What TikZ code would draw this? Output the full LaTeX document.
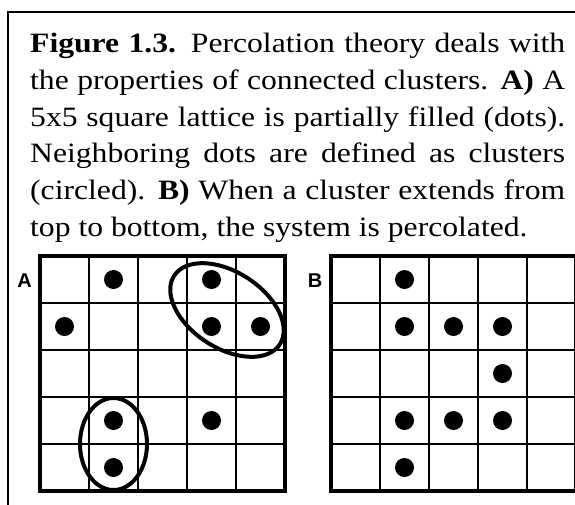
\documentclass[tikz,border=0pt]{standalone}
\usepackage{fontspec}
\setmainfont{Liberation Serif}[FakeStretch=1.13]
\newfontfamily\labelfont{Liberation Sans}
\tikzset{
  frameline/.style={line width=1.8pt},
  innerline/.style={line width=2.5pt},
  outerline/.style={line width=4.6pt},
  ring/.style={line width=4pt},
  dotfill/.style={fill=black},
  panellabel/.style={font=\labelfont\bfseries\fontsize{20}{24}\selectfont, inner sep=0pt},
}
\begin{document}
\begin{tikzpicture}[x=1pt,y=-1pt]
\useasboundingbox (0,0) rectangle (575,504);
\clip (0,0) rectangle (575,504);
\fill[white] (0,0) rectangle (575,504);
% frame
\draw[frameline] (8,12) rectangle (620,540);
% caption
\node[anchor=base west, text width=535pt, align=justify, inner sep=0pt,
      font=\fontsize{28}{36.8}\selectfont] (caption) at (30,52.5)
 {\textbf{Figure 1.3.} Percolation theory deals with\linebreak
  the properties of connected clusters. \textbf{A)} A\linebreak
  5x5 square lattice is partially filled (dots).\linebreak
  Neighboring dots are defined as clusters\linebreak
  (circled). \textbf{B)} When a cluster extends from\linebreak
  top to bottom, the system is percolated.};
% labels
\node[panellabel] (labA) at (24.5,280.5) {A};
\node[panellabel] (labB) at (315,280.5) {B};
% grid A
\begin{scope}[shift={(40,256)}]
  \foreach \i in {1,...,4} {
    \draw[innerline] (49*\i,0) -- (49*\i,235);
    \draw[innerline] (0,47*\i) -- (245,47*\i);
  }
  \foreach \c/\r in {1/0,3/0,0/1,3/1,4/1,1/3,3/3,1/4}
    \fill[dotfill] (49*\c+24.5,47*\r+23.5) circle (9.5pt);
  \draw[outerline] (0,0) rectangle (245,235);
  \draw[ring] (73.5,188) ellipse [x radius=33.5pt, y radius=46pt];
  \draw[ring, rotate around={-33:(187,54)}] (187,54) ellipse [x radius=63pt, y radius=38pt];
\end{scope}
% grid B
\begin{scope}[shift={(331,256)}]
  \foreach \i in {1,...,4} {
    \draw[innerline] (49*\i,0) -- (49*\i,235);
    \draw[innerline] (0,47*\i) -- (245,47*\i);
  }
  \foreach \c/\r in {1/0,1/1,2/1,3/1,3/2,1/3,2/3,3/3,1/4}
    \fill[dotfill] (49*\c+24.5,47*\r+23.5) circle (9.5pt);
  \draw[outerline] (0,0) rectangle (245,235);
\end{scope}
\end{tikzpicture}
\end{document}
